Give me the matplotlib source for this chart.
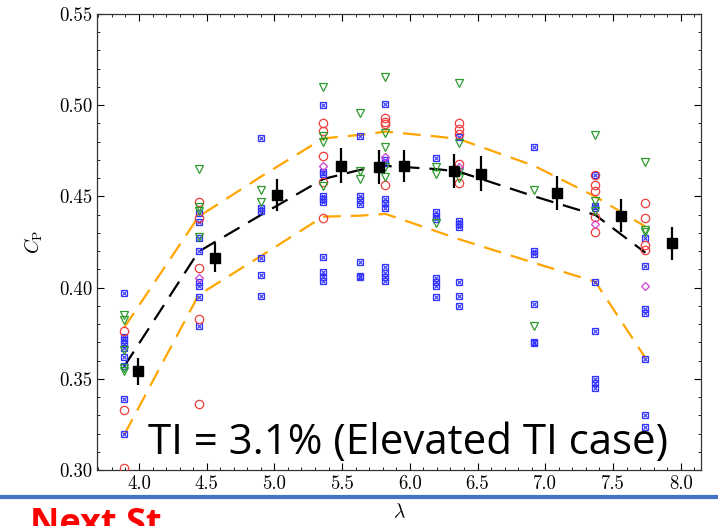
import matplotlib
matplotlib.use("Agg")
import matplotlib.pyplot as plt
from matplotlib.ticker import MultipleLocator

plt.rcParams['font.family'] = 'serif'
plt.rcParams['font.serif'] = ['cmr10', 'DejaVu Serif']
plt.rcParams['mathtext.fontset'] = 'cm'
plt.rcParams['axes.formatter.use_mathtext'] = True

# column positions (tip speed ratio)
col_x = [3.89, 4.44, 4.90, 5.36, 5.63, 5.82, 6.19, 6.36, 6.92, 7.37, 7.74]

# raw data per column, one list per marker type
blue_y = [
    [0.397, 0.373, 0.371, 0.369, 0.367, 0.362, 0.357, 0.339, 0.320],
    [0.441, 0.436, 0.427, 0.420, 0.403, 0.401, 0.395, 0.379],
    [0.482, 0.4435, 0.442, 0.416, 0.407, 0.3955],
    [0.500, 0.4636, 0.462, 0.450, 0.4486, 0.447, 0.417, 0.4087, 0.406, 0.4038],
    [0.483, 0.450, 0.448, 0.4458, 0.414, 0.4066, 0.4060],
    [0.5007, 0.470, 0.4683, 0.4484, 0.4462, 0.4438, 0.4111, 0.4082, 0.406, 0.4038],
    [0.4712, 0.4416, 0.4393, 0.4374, 0.4051, 0.4029, 0.4009, 0.395],
    [0.4824, 0.4367, 0.4349, 0.4331, 0.4032, 0.3954, 0.390],
    [0.4769, 0.4202, 0.4184, 0.391, 0.3703, 0.3695],
    [0.4617, 0.4449, 0.4435, 0.4029, 0.3762, 0.3497, 0.3475, 0.3451],
    [0.427, 0.4118, 0.388, 0.3862, 0.3609, 0.3302, 0.3237],
]
red_y = [
    [0.376, 0.333, 0.301],
    [0.447, 0.438, 0.411, 0.383, 0.336],
    [],
    [0.4904, 0.4859, 0.472, 0.458, 0.438],
    [],
    [0.4928, 0.491, 0.4895, 0.4562],
    [],
    [0.4904, 0.4868, 0.4842, 0.4678, 0.4572],
    [],
    [0.4617, 0.4562, 0.453, 0.4389, 0.4303],
    [0.4462, 0.438, 0.4234, 0.4206],
]
green_y = [
    [0.385, 0.382, 0.366, 0.356, 0.354],
    [0.465, 0.444, 0.442, 0.428],
    [0.4535, 0.447],
    [0.510, 0.483, 0.480, 0.4557],
    [0.4957, 0.464, 0.4597],
    [0.5153, 0.485, 0.477, 0.466, 0.4605],
    [0.4663, 0.4623, 0.4352],
    [0.512, 0.479, 0.4635, 0.460],
    [0.4535, 0.379],
    [0.4837, 0.4475, 0.4422],
    [0.469, 0.4316, 0.4303],
]
magenta_y = [[], [0.405], [], [0.4667], [], [0.4718], [], [0.466], [], [0.4349], [0.401]]

# binned means with error bars
mean_x = [3.99, 4.56, 5.02, 5.495, 5.774, 5.96, 6.328, 6.526, 7.088, 7.556, 7.936]
mean_y = [0.354, 0.4164, 0.4508, 0.4667, 0.466, 0.4667, 0.4641, 0.4623, 0.4517, 0.4393, 0.4243]
mean_err = [0.0075, 0.008, 0.0087, 0.0096, 0.0093, 0.009, 0.0094, 0.0096, 0.0093, 0.009, 0.009]

# fit and envelope at the column positions
fit_y = [0.3567, 0.4197, 0.4398, 0.4595, 0.4645, 0.4667, 0.465, 0.4636, 0.450, 0.4398, 0.4191]
upper_y = [0.378, 0.4389, 0.4608, 0.4818, 0.4837, 0.4855, 0.4829, 0.4815, 0.4667, 0.4499, 0.4334]
lower_y = [0.3192, 0.3959, 0.4173, 0.4389, 0.4394, 0.4404, 0.431, 0.4266, 0.4135, 0.4032, 0.3614]


def flatten(cols):
    xs, ys = [], []
    for x, vals in zip(col_x, cols):
        xs += [x] * len(vals)
        ys += vals
    return xs, ys


fig = plt.figure(figsize=(7.18, 5.26), dpi=100)
ax = fig.add_axes([0.1351, 0.1065, 0.8412, 0.8669])

dash = (0, (8, 4.5))
ax.plot(col_x, upper_y, color='#ffa500', linestyle=dash, linewidth=1.6, zorder=2)
ax.plot(col_x, lower_y, color='#ffa500', linestyle=dash, linewidth=1.6, zorder=2)
ax.plot(col_x, fit_y, color='black', linestyle=dash, linewidth=1.6, zorder=2)

bx, by = flatten(blue_y)
ax.plot(bx, by, 's', ms=4.4, mfc='none', mec='#3333ff', mew=0.9, zorder=3)
ax.plot(bx, by, 'x', ms=3.3, color='#3333ff', mew=0.8, zorder=3)
rx, ry = flatten(red_y)
ax.plot(rx, ry, 'o', ms=6, mfc='none', mec='#f03c3c', mew=0.9, zorder=3)
gx, gy = flatten(green_y)
ax.plot(gx, gy, 'v', ms=6, mfc='none', mec='#2e9a2e', mew=0.9, zorder=3)
mx, my = flatten(magenta_y)
ax.plot(mx, my, 'D', ms=4.5, mfc='none', mec='#d040d0', mew=0.9, zorder=3)

ax.errorbar(mean_x, mean_y, yerr=mean_err, fmt='s', color='black', ms=6.5,
            elinewidth=1.6, capsize=0, zorder=4)

ax.set_xlim(3.69, 8.15)
ax.set_ylim(0.30, 0.55)
ax.xaxis.set_major_locator(MultipleLocator(0.5))
ax.xaxis.set_minor_locator(MultipleLocator(0.1))
ax.yaxis.set_major_locator(MultipleLocator(0.05))
ax.yaxis.set_minor_locator(MultipleLocator(0.01))
ax.xaxis.set_major_formatter(plt.FuncFormatter(lambda v, p: f'{v:.1f}'))
ax.yaxis.set_major_formatter(plt.FuncFormatter(lambda v, p: f'{v:.2f}'))
ax.tick_params(which='both', direction='in', top=True, right=True, labelsize=13.5)
ax.tick_params(which='major', length=5, width=0.8)
ax.tick_params(which='minor', length=2.5, width=0.6)
for s in ax.spines.values():
    s.set_linewidth(0.9)
    s.set_color('#333333')

ax.set_ylabel(r'$C_\mathrm{P}$', fontsize=14, labelpad=10)
ax.set_xlabel(r'$\lambda$', fontsize=14, labelpad=7)

# slide overlay
fig.add_artist(plt.Line2D([0, 1], [0.0551, 0.0551], color='#4472c4', linewidth=3))
fig.text(0.042, 0.036, 'Next St', color='#ff0000', fontsize=26, fontweight='bold',
         family=['Open Sans', 'DejaVu Sans'], va='top', ha='left')

ti = fig.text(408 / 718, 1 - 454 / 526, 'TI = 3.1% (Elevated TI case)', fontsize=30,
              family=['Open Sans', 'DejaVu Sans'], ha='center', va='baseline', zorder=10)
fig.canvas.draw()
w = ti.get_window_extent().width
ti.set_fontsize(30 * 520 / w)

fig.savefig('out.png', dpi=100)
